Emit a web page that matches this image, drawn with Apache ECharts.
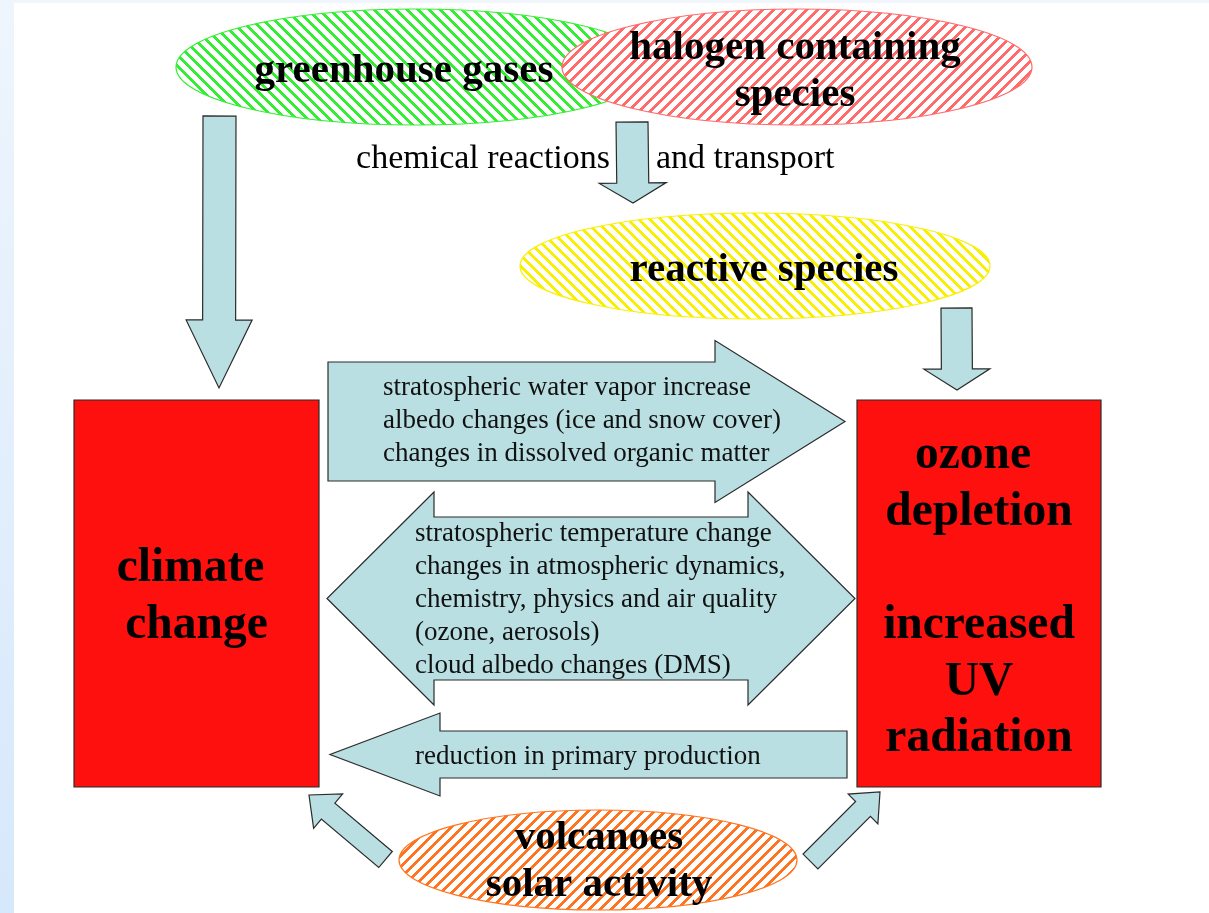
<!DOCTYPE html>
<html>
<head>
<meta charset="utf-8">
<script src="https://cdn.jsdelivr.net/npm/echarts@6.0.0/dist/echarts.min.js"></script>
<style>
  html, body { margin: 0; padding: 0; background: #fff; }
  #main { width: 1209px; height: 913px; }
</style>
</head>
<body>
<div id="main"></div>
<script>
// texts of the diagram
const ovalLabels = ["greenhouse gases", "halogen containing\nspecies", "reactive species", "volcanoes\nsolar activity"];
const boxLabels = ["climate \nchange", "ozone \ndepletion\n\nincreased\nUV\nradiation"];
const arrowLabels = [
  "stratospheric water vapor increase\nalbedo changes (ice and snow cover)\nchanges in dissolved organic matter",
  "stratospheric temperature change\nchanges in atmospheric dynamics,\nchemistry, physics and air quality\n(ozone, aerosols)\ncloud albedo changes (DMS)",
  "reduction in primary production"
];
const flowLabels = ["chemical reactions", "and transport"];

// layout (diagram units = pixels of the 1209 x 913 page)
const ovalLayout = [
  { c: [415, 67], r: [239, 58], color: "#33ee33", dir: "\\", text: [404, 71], lh: 47 },
  { c: [797, 67], r: [235, 58], color: "#ff6b6b", dir: "/", text: [795, 72], lh: 47 },
  { c: [755, 266], r: [235, 53], color: "#f8f000", dir: "\\", text: [764, 270], lh: 47 },
  { c: [598, 860], r: [199, 50], color: "#ff7420", dir: "/", text: [599, 862], lh: 47 }
];
const boxLayout = [
  { x0: 74, y0: 400, x1: 319, y1: 787, lh: 57, dy: 4 },
  { x0: 857, y0: 400, x1: 1101, y1: 787, lh: 56.6, dy: 4 }
];
const arrowLayout = [
  { tail: [219.5, 116], tip: [219, 388], sw: 33, hw: 66, hl: 68 },
  { tail: [632, 122], tip: [633, 203], sw: 32, hw: 67, hl: 20 },
  { tail: [956.5, 308], tip: [957, 390], sw: 31, hw: 66, hl: 21 },
  { tail: [328, 421.5], tip: [845, 421.5], sw: 119, hw: 162, hl: 130 },
  { tail: [847, 754.5], tip: [330, 754.5], sw: 47, hw: 83, hl: 110 },
  { tail: [327, 598.5], tip: [855, 598.5], sw: 163, hw: 213, hl: 107, both: true },
  { tail: [385.5, 859.5], tip: [309, 795], sw: 21, hw: 45, hl: 25 },
  { tail: [810.5, 861.5], tip: [880, 792], sw: 21, hw: 42, hl: 24 }
];
const arrowTextLayout = [
  { x: 383, y: 421, lh: 33 },
  { x: 415, y: 600, lh: 32.8 },
  { x: 415, y: 757, lh: 33 }
];
const flowTextLayout = [
  { x: 610, y: 159, align: "right" },
  { x: 656, y: 159, align: "left" }
];

const SERIF = '"Liberation Serif", "Times New Roman", serif';

// crisp diagonal stripes, drawn pixel by pixel
function hatch(color, dir) {
  const s = 11, w = 4;
  const c = document.createElement("canvas");
  c.width = s;
  c.height = s;
  const ctx = c.getContext("2d");
  ctx.fillStyle = "#fff";
  ctx.fillRect(0, 0, s, s);
  ctx.fillStyle = color;
  for (let y = 0; y < s; y++) {
    for (let x = 0; x < s; x++) {
      const k = dir === "/" ? (x + y) % s : ((x - y) % s + s) % s;
      if (k < w) ctx.fillRect(x, y, 1, 1);
    }
  }
  return c;
}

function arrowPoints(a) {
  const dx = a.tip[0] - a.tail[0];
  const dy = a.tip[1] - a.tail[1];
  const len = Math.sqrt(dx * dx + dy * dy);
  const ux = dx / len, uy = dy / len;
  const nx = -uy, ny = ux;
  const off = (p, d, w) => [p[0] + ux * d + nx * w, p[1] + uy * d + ny * w];
  const hs = a.sw / 2, hh = a.hw / 2;
  if (a.both) {
    const L = a.tail, R = a.tip;
    return [
      L,
      off(L, a.hl, hh), off(L, a.hl, hs),
      off(R, -a.hl, hs), off(R, -a.hl, hh),
      R,
      off(R, -a.hl, -hh), off(R, -a.hl, -hs),
      off(L, a.hl, -hs), off(L, a.hl, -hh)
    ];
  }
  return [
    off(a.tail, 0, hs), off(a.tip, -a.hl, hs), off(a.tip, -a.hl, hh),
    a.tip,
    off(a.tip, -a.hl, -hh), off(a.tip, -a.hl, -hs), off(a.tail, 0, -hs)
  ];
}

const chart = echarts.init(document.getElementById("main"), null, { renderer: "canvas" });

const option = {
  animation: false,
  backgroundColor: "#ffffff",
  grid: { left: 0, right: 0, top: 0, bottom: 0 },
  xAxis: { type: "value", min: 0, max: 1209, show: false },
  yAxis: { type: "value", min: 0, max: 913, inverse: true, show: false },
  graphic: [
    {
      type: "rect", left: 0, top: 0, z: -10,
      shape: { width: 14, height: 913 },
      style: {
        fill: new echarts.graphic.LinearGradient(0, 0, 0, 1, [
          { offset: 0, color: "#eef5fd" },
          { offset: 1, color: "#d6e8fb" }
        ])
      }
    },
    {
      type: "rect", left: 14, top: 0, z: -10,
      shape: { width: 1195, height: 3 },
      style: { fill: "#f1f6fc" }
    }
  ],
  series: [
    {
      type: "custom",
      name: "arrows",
      z: 2,
      data: arrowLayout.map((a, i) => [a.tip[0], a.tip[1], i]),
      renderItem: function (params, api) {
        const a = arrowLayout[params.dataIndex];
        const pts = arrowPoints(a).map(p => api.coord(p));
        return {
          type: "polygon",
          shape: { points: pts },
          style: { fill: "#b9dfe2", stroke: "#2b2b2b", lineWidth: 1.2 }
        };
      }
    },
    {
      type: "custom",
      name: "arrowText",
      z: 3,
      data: arrowTextLayout.map((t, i) => [t.x, t.y, i]),
      renderItem: function (params, api) {
        const t = arrowTextLayout[params.dataIndex];
        const p = api.coord([t.x, t.y]);
        return {
          type: "text",
          x: p[0],
          y: p[1],
          style: {
            text: arrowLabels[params.dataIndex],
            font: "27px " + SERIF,
            fill: "#111",
            align: "left",
            verticalAlign: "middle",
            lineHeight: t.lh
          }
        };
      }
    },
    {
      type: "custom",
      name: "flowText",
      z: 3,
      data: flowTextLayout.map((t, i) => [t.x, t.y, i]),
      renderItem: function (params, api) {
        const t = flowTextLayout[params.dataIndex];
        const p = api.coord([t.x, t.y]);
        return {
          type: "text",
          x: p[0],
          y: p[1],
          style: {
            text: flowLabels[params.dataIndex],
            font: "34px " + SERIF,
            fill: "#000",
            align: t.align,
            verticalAlign: "middle"
          }
        };
      }
    },
    {
      type: "custom",
      name: "ovals",
      z: 4,
      data: ovalLayout.map((o, i) => [o.c[0], o.c[1], i]),
      renderItem: function (params, api) {
        const o = ovalLayout[params.dataIndex];
        const c = api.coord(o.c);
        const tp = api.coord(o.text);
        return {
          type: "group",
          children: [
            {
              type: "ellipse",
              shape: { cx: c[0], cy: c[1], rx: o.r[0], ry: o.r[1] },
              style: {
                fill: { image: hatch(o.color, o.dir), repeat: "repeat" },
                stroke: o.color,
                lineWidth: 1.2
              }
            },
            {
              type: "text",
              x: tp[0],
              y: tp[1],
              style: {
                text: ovalLabels[params.dataIndex],
                font: "bold 41px " + SERIF,
                fill: "#000",
                align: "center",
                verticalAlign: "middle",
                lineHeight: o.lh
              }
            }
          ]
        };
      }
    },
    {
      type: "custom",
      name: "boxes",
      z: 4,
      data: boxLayout.map((b, i) => [b.x0, b.y0, i]),
      renderItem: function (params, api) {
        const b = boxLayout[params.dataIndex];
        const p0 = api.coord([b.x0, b.y0]);
        const p1 = api.coord([b.x1, b.y1]);
        return {
          type: "group",
          children: [
            {
              type: "rect",
              shape: { x: p0[0], y: p0[1], width: p1[0] - p0[0], height: p1[1] - p0[1] },
              style: { fill: "#fe100e", stroke: "#2b2b2b", lineWidth: 1.2 }
            },
            {
              type: "text",
              x: (p0[0] + p1[0]) / 2,
              y: (p0[1] + p1[1]) / 2 + b.dy,
              style: {
                text: boxLabels[params.dataIndex],
                font: "bold 47.5px " + SERIF,
                fill: "#000",
                align: "center",
                verticalAlign: "middle",
                lineHeight: b.lh
              }
            }
          ]
        };
      }
    }
  ]
};

chart.setOption(option);
</script>
</body>
</html>
